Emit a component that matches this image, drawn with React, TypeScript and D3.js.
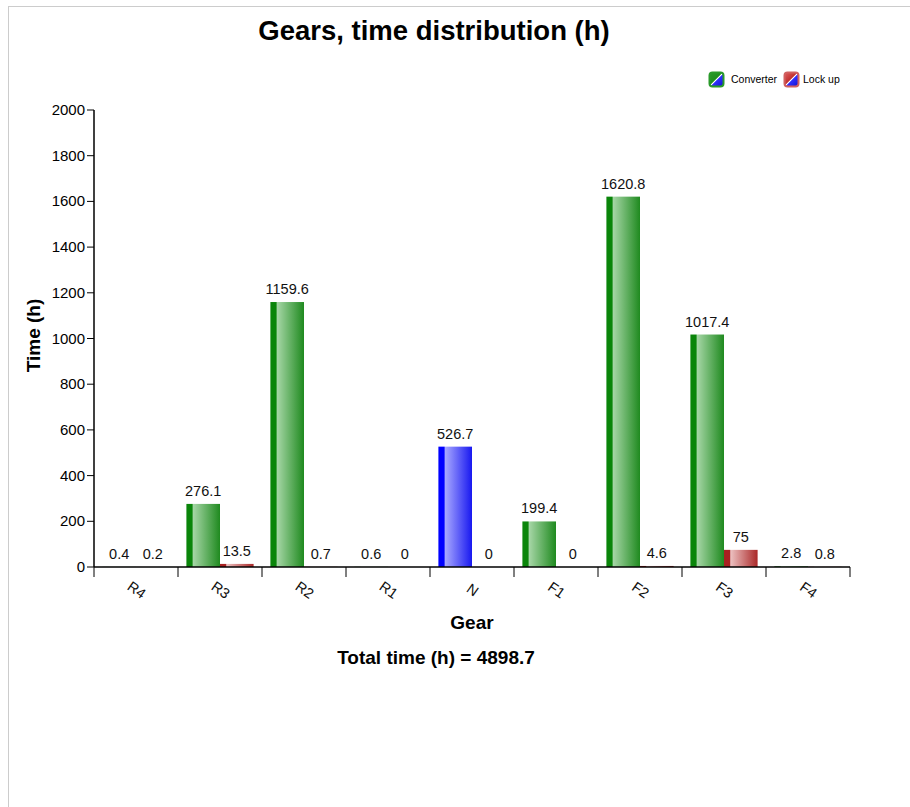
import React from "react";
import * as d3 from "d3";

const categories = ["R4", "R3", "R2", "R1", "N", "F1", "F2", "F3", "F4"];
const converter = [0.4, 276.1, 1159.6, 0.6, 526.7, 199.4, 1620.8, 1017.4, 2.8];
const lockup = [0.2, 13.5, 0.7, 0, 0, 0, 4.6, 75, 0.8];
const yTicks = [0, 200, 400, 600, 800, 1000, 1200, 1400, 1600, 1800, 2000];
const seriesNames = ["Converter", "Lock up"];
const totalTime = "4898.7";

const W = 910, H = 807;
const left = 94, right = 850, top = 110, bottom = 567;
const FONT = "'Liberation Sans', Arial, sans-serif";

export default function App() {
  const x = d3.scaleBand<string>().domain(categories).range([left, right]).paddingInner(0.2).paddingOuter(0.1);
  const band = d3.scaleBand<string>().domain(categories).range([left, right]);
  const sub = d3.scaleBand<number>().domain([0, 1]).range([0, x.bandwidth()]);
  const y = d3.scaleLinear().domain([0, 2000]).range([bottom, top]);

  const grads = [
    { id: "gGreen", dark: "#0a850a", light: "#a6d6a6", end: "#1f8a1f" },
    { id: "gRed", dark: "#a82020", light: "#ecc0c0", end: "#aa2828" },
    { id: "gBlue", dark: "#0000ff", light: "#a8a8ff", end: "#1818f0" },
  ];

  const bars: any[] = [];
  categories.forEach((c, i) => {
    [converter[i], lockup[i]].forEach((v, s) => {
      const bx = (x(c) as number) + (sub(s) as number);
      const grad = s === 1 ? "gRed" : c === "N" ? "gBlue" : "gGreen";
      bars.push({ key: c + s, x: bx, w: sub.bandwidth(), v, grad });
    });
  });

  const xBoundaries = [...categories.map((c) => band(c) as number), right];

  return (
    <svg width={W} height={H} style={{ position: "absolute", left: 0, top: 0, background: "#fff" }} fontFamily={FONT}>
      <defs>
        {grads.map((g) => (
          <linearGradient key={g.id} id={g.id} x1="0" x2="1" y1="0" y2="0">
            <stop offset="0" stopColor={g.dark} />
            <stop offset="0.17" stopColor={g.dark} />
            <stop offset="0.2" stopColor={g.light} />
            <stop offset="1" stopColor={g.end} />
          </linearGradient>
        ))}
        <linearGradient id="lgGreen" x1="0" y1="0" x2="1" y2="1">
          <stop offset="0" stopColor="#2a9a2a" />
          <stop offset="0.45" stopColor="#1f8f1f" />
          <stop offset="0.5" stopColor="#ffffff" />
          <stop offset="0.55" stopColor="#3030ff" />
          <stop offset="1" stopColor="#1010cc" />
        </linearGradient>
        <linearGradient id="lgRed" x1="0" y1="0" x2="1" y2="1">
          <stop offset="0" stopColor="#e06060" />
          <stop offset="0.45" stopColor="#c03030" />
          <stop offset="0.5" stopColor="#ffffff" />
          <stop offset="0.55" stopColor="#3030ff" />
          <stop offset="1" stopColor="#1010cc" />
        </linearGradient>
      </defs>

      <rect x={8.5} y={6.5} width={W} height={H} fill="none" stroke="#cccccc" />

      <text x={434} y={40} textAnchor="middle" fontSize={27.5} fontWeight="bold" fill="#000">
        Gears, time distribution (h)
      </text>

      {/* legend */}
      <g>
        <rect x={709.5} y={72.5} width={14} height={14} rx={3} fill="url(#lgGreen)" stroke="#2a9a2a" strokeWidth={2} />
        <text x={731} y={83} fontSize={10.5} fill="#000">{seriesNames[0]}</text>
        <rect x={784.5} y={72.5} width={14} height={14} rx={3} fill="url(#lgRed)" stroke="#d06060" strokeWidth={2} />
        <text x={803} y={83} fontSize={10.5} fill="#000">{seriesNames[1]}</text>
      </g>

      {/* bars */}
      {bars.map((b) => (
        <rect key={b.key} x={b.x} y={y(b.v)} width={b.w} height={bottom - y(b.v)} fill={`url(#${b.grad})`} />
      ))}
      {bars.map((b) => (
        <text key={"t" + b.key} x={b.x + b.w / 2} y={y(b.v) - 8} textAnchor="middle" fontSize={14.5} fill="#111">
          {String(b.v)}
        </text>
      ))}

      {/* y axis */}
      <line x1={left} x2={left} y1={top} y2={bottom} stroke="#000" strokeWidth={1.5} />
      {yTicks.map((t) => (
        <g key={t}>
          <line x1={left - 7} x2={left} y1={y(t)} y2={y(t)} stroke="#000" />
          <text x={left - 9} y={y(t) + 5} textAnchor="end" fontSize={15} fill="#000">{t}</text>
        </g>
      ))}

      {/* x axis */}
      <line x1={left} x2={right} y1={bottom} y2={bottom} stroke="#000" strokeWidth={1.5} />
      {xBoundaries.map((bx, i) => (
        <line key={i} x1={bx} x2={bx} y1={bottom} y2={bottom + 10} stroke="#000" />
      ))}
      {categories.map((c) => {
        const cx = (band(c) as number) + band.bandwidth() / 2;
        return (
          <text key={c} x={cx} y={591} textAnchor="middle" dominantBaseline="middle" fontSize={14.5} fill="#111"
            transform={`rotate(35 ${cx} 591)`}>
            {c}
          </text>
        );
      })}

      <text x={472} y={629} textAnchor="middle" fontSize={19} fontWeight="bold">Gear</text>
      <text x={436} y={664} textAnchor="middle" fontSize={19} fontWeight="bold">{`Total time (h) = ${totalTime}`}</text>
      <text transform={`translate(40 ${(top + bottom) / 2 - 3}) rotate(-90)`} textAnchor="middle" fontSize={19} fontWeight="bold">
        Time (h)
      </text>
    </svg>
  );
}
